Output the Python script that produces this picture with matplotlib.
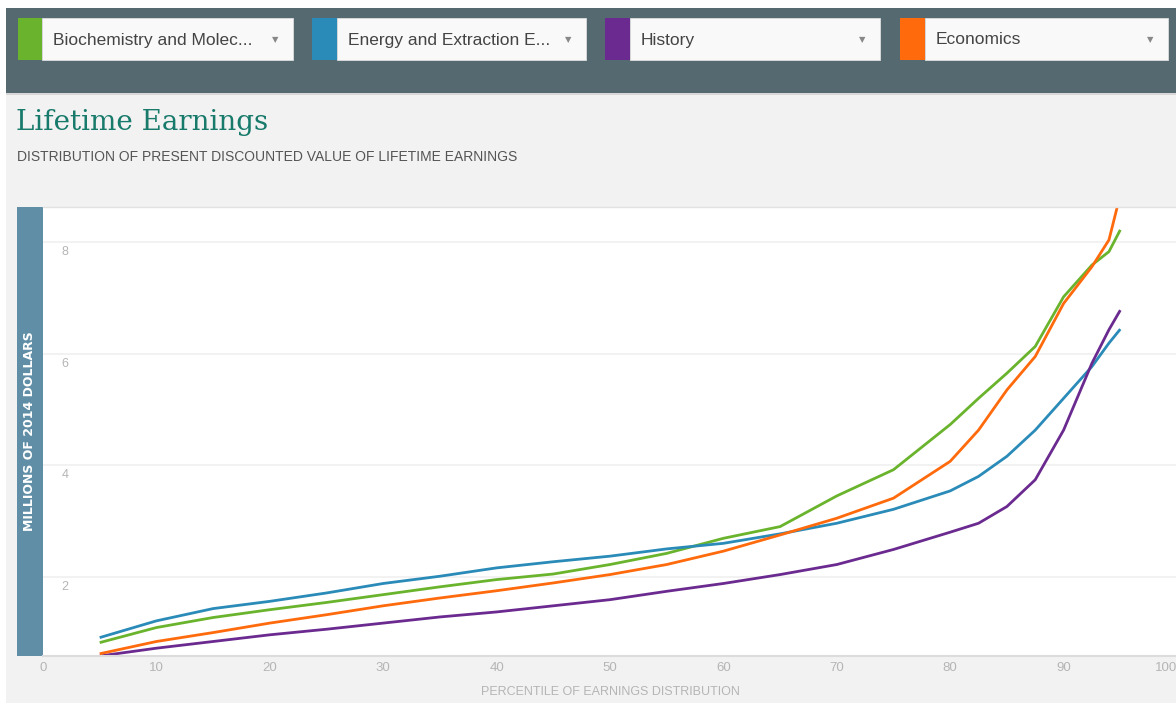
import matplotlib
matplotlib.use("Agg")
import matplotlib.pyplot as plt
from matplotlib.patches import Rectangle
from matplotlib.transforms import ScaledTranslation

# ---------------- data ----------------
percentiles = [5, 10, 15, 20, 25, 30, 35, 40, 45, 50, 55, 60, 65, 70, 75, 80,
               82.5, 85, 87.5, 90, 92.5, 94, 95]
biochem = [0.82, 1.09, 1.27, 1.41, 1.54, 1.68, 1.82, 1.95, 2.05, 2.22, 2.42, 2.69,
           2.90, 3.45, 3.92, 4.73, 5.20, 5.65, 6.13, 7.02, 7.59, 7.83, 8.22]
energy = [0.91, 1.21, 1.43, 1.56, 1.71, 1.88, 2.01, 2.16, 2.27, 2.37, 2.50, 2.60,
          2.77, 2.96, 3.21, 3.54, 3.80, 4.16, 4.63, 5.20, 5.77, 6.19, 6.44]
history = [0.58, 0.72, 0.84, 0.96, 1.06, 1.17, 1.28, 1.37, 1.48, 1.59, 1.74, 1.88,
           2.04, 2.22, 2.49, 2.80, 2.96, 3.26, 3.74, 4.63, 5.83, 6.43, 6.78]
economics = [0.62, 0.84, 1.00, 1.17, 1.32, 1.48, 1.62, 1.75, 1.89, 2.04, 2.22, 2.46,
             2.75, 3.05, 3.41, 4.07, 4.63, 5.35, 5.95, 6.90, 7.56, 8.04, 8.85]

series_names = ["Biochemistry and Molec...", "Energy and Extraction E...", "History", "Economics"]
series_colors = ["#6ab42d", "#2a8bb8", "#6b2a8f", "#ff6a0d"]
x_ticks = [0, 10, 20, 30, 40, 50, 60, 70, 80, 90, 100]
y_ticks = [2, 4, 6, 8]

W, H = 1176, 703
plt.rcParams['font.family'] = ['Liberation Sans', 'DejaVu Sans']
fig = plt.figure(figsize=(W / 100, H / 100), dpi=100, facecolor="white")

# background layer in pixel coordinates
bg = fig.add_axes([0, 0, 1, 1], zorder=0)
bg.set_xlim(0, W)
bg.set_ylim(H, 0)
bg.axis("off")

bg.add_patch(Rectangle((6, 93), W - 6, H - 93, color="#f2f2f2", lw=0))
bg.add_patch(Rectangle((6, 8), W - 6, 86, color="#546a70", lw=0))
bg.add_patch(Rectangle((6, 93), W - 6, 2, color="#d8d8d8", lw=0))

# dropdowns
boxes = [(18, 42, 293), (312, 337, 586), (605, 630, 880), (900, 925, 1168)]
for (sx, wx, ex), name, col in zip(boxes, series_names, series_colors):
    bg.add_patch(Rectangle((sx, 18), wx - sx, 42, color=col, lw=0))
    bg.add_patch(Rectangle((wx, 18), ex - wx, 42, facecolor="#f9f9f9",
                           edgecolor="#dddddd", lw=0.6))
    bg.text(wx + 11, 40, name, fontsize=12.5, color="#444444", va="center", ha="left")
    bg.text(ex - 18, 40, "▼", fontsize=6, color="#888888", va="center", ha="center",
            family="DejaVu Sans")

# title & subtitle
bg.text(16, 122, "Lifetime Earnings", fontsize=20, color="#177a6a",
        family="DejaVu Serif", va="center", ha="left")
bg.text(17, 157, "DISTRIBUTION OF PRESENT DISCOUNTED VALUE OF LIFETIME EARNINGS",
        fontsize=10, color="#555555", va="center", ha="left", family="Liberation Sans")

# y-label band
bg.add_patch(Rectangle((17, 207), 26, 449, color="#5f8ea6", lw=0))
bg.text(30, 431, "MILLIONS OF 2014 DOLLARS", rotation=90, color="white",
        fontsize=9, fontweight="bold", va="center", ha="center", family="DejaVu Sans")

# ---------------- chart ----------------
left, right, top, bottom = 43, 1177, 207, 656
ax = fig.add_axes([left / W, (H - bottom) / H, (right - left) / W, (bottom - top) / H],
                  zorder=1)
ax.set_facecolor("white")
for vals, col in zip([biochem, energy, history, economics], series_colors):
    ax.plot(percentiles, vals, color=col, lw=2.0, solid_capstyle="butt")

ax.set_xlim(0, 100)
ax.set_ylim(0.58, 8.63)
ax.set_xticks(x_ticks)
ax.set_xticklabels([str(t) for t in x_ticks])
ax.tick_params(axis="x", length=0, pad=4, labelsize=9.5, labelcolor="#b5b5b5")
ax.get_xticklabels()[-1].set_horizontalalignment("right")
ax.set_yticks(y_ticks)
ax.set_yticklabels([])
ax.tick_params(axis="y", length=0)
ax.grid(axis="y", color="#f0f0f0", lw=1.2)
ax.set_axisbelow(True)

offset = ScaledTranslation(0, -10 / 100, fig.dpi_scale_trans)
for t in y_ticks:
    ax.text(22 / (right - left), t, str(t), transform=ax.get_yaxis_transform() + offset,
            fontsize=9, color="#b5b5b5", ha="center", va="center")

for s in ["left", "right"]:
    ax.spines[s].set_visible(False)
ax.spines["bottom"].set_color("#dcdcdc")
ax.spines["bottom"].set_linewidth(1.5)
ax.spines["top"].set_color("#e2e2e2")
ax.spines["top"].set_linewidth(1.0)

ax.set_xlabel("PERCENTILE OF EARNINGS DISTRIBUTION", fontsize=9, color="#b5b5b5",
              labelpad=9)

fig.savefig("out.png", dpi=100, facecolor=fig.get_facecolor())
